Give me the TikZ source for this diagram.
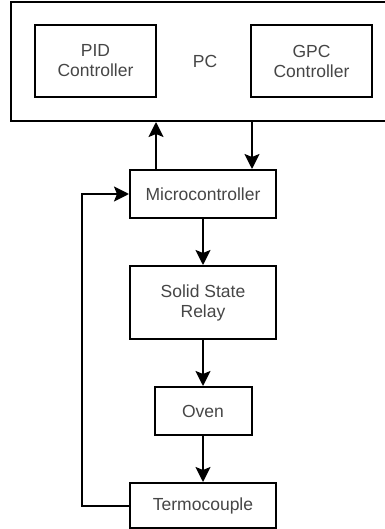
\documentclass[tikz,border=0pt]{standalone}
\usepackage{fontspec}
\setmainfont{Liberation Sans}
\usepackage{tikz}
\usetikzlibrary{shapes, arrows.meta, calc}
\definecolor{labelGray}{RGB}{70,70,70}
\tikzstyle{pcBox}        = [rectangle,
                            minimum width=388pt,
                            minimum height=119pt,
                            inner sep=0pt,
                            draw=black,
                            line width=2pt]
\tikzstyle{ctrlBox}      = [rectangle,
                            minimum width=121pt,
                            minimum height=72pt,
                            text centered,
                            align=center,
                            draw=black,
                            line width=2pt]
\tikzstyle{block}        = [rectangle,
                            minimum width=146pt,
                            minimum height=48pt,
                            text centered,
                            align=center,
                            draw=black,
                            line width=2pt]
\tikzstyle{arrow}        = [line width=2pt, -{Stealth[length=15pt,width=15pt,inset=3pt]}]

\begin{document}
\begin{tikzpicture}[x=1pt, y=1pt, font=\fontsize{17.5}{20}\selectfont, text=labelGray]
        \useasboundingbox (0,0) rectangle (384,-529);

        \node [pcBox] (PC) at (205,-61.5) {PC};

        \node [ctrlBox] (PID) at ([shift={(-109.5,0.5)}] PC) {PID \\ Controller};
        \node [ctrlBox] (GPC) at ([shift={(106.5,0.5)}] PC) {GPC \\ Controller};

        \node [block] (Micro)  at ([shift={(-2,-132.5)}] PC) {Microcontroller};
        \node [block, minimum height=73pt] (SSR) at ([shift={(0,-108.5)}] Micro) {Solid State \\ Relay};
        \node [block, minimum width=97pt] (Oven) at ([shift={(0,-108.5)}] SSR) {Oven};
        \node [block, minimum height=45pt] (Termo) at ([shift={(0,-94.5)}] Oven) {Termocouple};

        \draw [arrow] ([xshift=-47pt]Micro.north) -- ([xshift=-47pt]Micro.north |- PC.south);
        \draw [arrow] ([xshift=49pt]Micro.north |- PC.south) -- ([xshift=49pt]Micro.north);

        \draw [arrow] (Micro) -- (SSR);
        \draw [arrow] (SSR) -- (Oven);
        \draw [arrow] (Oven) -- (Termo);

        % feedback loop
        \draw [arrow] (Termo.west) -- ++(-47,0) |- (Micro.west);

    \end{tikzpicture}
\end{document}
